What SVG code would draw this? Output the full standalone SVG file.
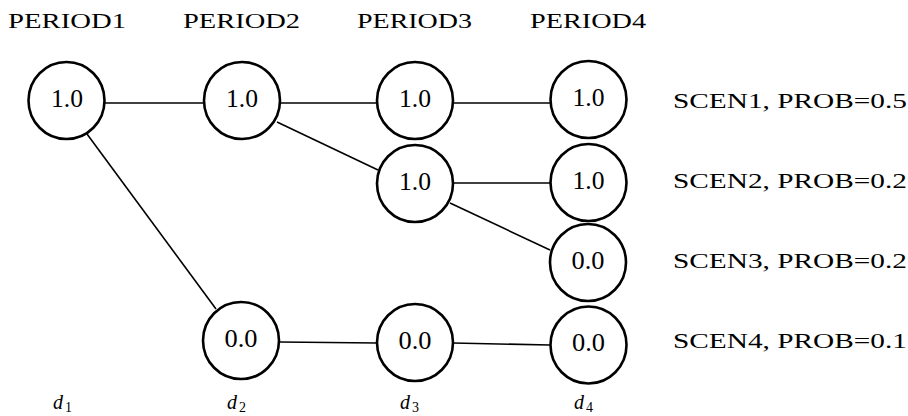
<svg xmlns="http://www.w3.org/2000/svg" width="908" height="416" viewBox="0 0 908 416">
<style>
.n ellipse{fill:#fff;stroke:#000;stroke-width:2.6}
.v{font-family:"Liberation Serif",serif;font-size:25px;text-anchor:middle;fill:#000}
.h{font-family:"Liberation Serif",serif;font-size:22px;fill:#000}
.s{font-family:"Liberation Serif",serif;font-size:22px;fill:#000}
.d{font-family:"Liberation Serif",serif;font-size:20px;font-style:italic;fill:#000}
.sub{font-size:14px;font-style:normal}
#connectors line{stroke:#000;stroke-width:1.6}
</style>
<rect width="908" height="416" fill="#fff"/>
<g id="headers">
<text class="h" x="8" y="28" textLength="118" lengthAdjust="spacingAndGlyphs">PERIOD1</text>
<text class="h" x="183" y="28" textLength="117" lengthAdjust="spacingAndGlyphs">PERIOD2</text>
<text class="h" x="357" y="28" textLength="115" lengthAdjust="spacingAndGlyphs">PERIOD3</text>
<text class="h" x="530" y="28" textLength="116" lengthAdjust="spacingAndGlyphs">PERIOD4</text>
</g>
<g id="connectors">
<line x1="105" y1="103" x2="204" y2="103"/>
<line x1="280" y1="103" x2="377" y2="103"/>
<line x1="453" y1="103" x2="550" y2="103"/>
<line x1="277" y1="122" x2="378" y2="170"/>
<line x1="453" y1="183" x2="550" y2="183"/>
<line x1="450" y1="203" x2="550" y2="250"/>
<line x1="87" y1="134" x2="216" y2="309"/>
<line x1="280" y1="342" x2="377" y2="343"/>
<line x1="453" y1="343" x2="550" y2="345"/>
</g>
<g id="n1" class="n"><ellipse cx="66.5" cy="100.5" rx="38" ry="38.5"/><text class="v" x="67" y="107" textLength="32" lengthAdjust="spacingAndGlyphs">1.0</text></g>
<g id="n2" class="n"><ellipse cx="242" cy="100.5" rx="38" ry="38.5"/><text class="v" x="242" y="107" textLength="32" lengthAdjust="spacingAndGlyphs">1.0</text></g>
<g id="n3" class="n"><ellipse cx="415" cy="100.5" rx="38" ry="38.5"/><text class="v" x="415" y="107" textLength="32" lengthAdjust="spacingAndGlyphs">1.0</text></g>
<g id="n4" class="n"><ellipse cx="588.5" cy="99.5" rx="38" ry="38.5"/><text class="v" x="588.5" y="106" textLength="32" lengthAdjust="spacingAndGlyphs">1.0</text></g>
<g id="n5" class="n"><ellipse cx="415" cy="183.5" rx="38" ry="38.5"/><text class="v" x="415" y="190" textLength="32" lengthAdjust="spacingAndGlyphs">1.0</text></g>
<g id="n6" class="n"><ellipse cx="588.5" cy="182.5" rx="38" ry="38.5"/><text class="v" x="588.5" y="189" textLength="32" lengthAdjust="spacingAndGlyphs">1.0</text></g>
<g id="n7" class="n"><ellipse cx="588" cy="262.5" rx="38" ry="38.5"/><text class="v" x="588" y="269" textLength="33" lengthAdjust="spacingAndGlyphs">0.0</text></g>
<g id="n8" class="n"><ellipse cx="241" cy="340.5" rx="38" ry="38.5"/><text class="v" x="241" y="347" textLength="33" lengthAdjust="spacingAndGlyphs">0.0</text></g>
<g id="n9" class="n"><ellipse cx="415" cy="342.5" rx="38" ry="38.5"/><text class="v" x="415" y="349" textLength="33" lengthAdjust="spacingAndGlyphs">0.0</text></g>
<g id="n10" class="n"><ellipse cx="588.5" cy="345" rx="38" ry="38.5"/><text class="v" x="588.5" y="351" textLength="33" lengthAdjust="spacingAndGlyphs">0.0</text></g>
<g id="scenarios">
<text class="s" x="673" y="108" textLength="234" lengthAdjust="spacingAndGlyphs">SCEN1, PROB=0.5</text>
<text class="s" x="673" y="188" textLength="234" lengthAdjust="spacingAndGlyphs">SCEN2, PROB=0.2</text>
<text class="s" x="673" y="268" textLength="234" lengthAdjust="spacingAndGlyphs">SCEN3, PROB=0.2</text>
<text class="s" x="673" y="348" textLength="234" lengthAdjust="spacingAndGlyphs">SCEN4, PROB=0.1</text>
</g>
<g id="stages">
<text class="d" x="53" y="409">d<tspan class="sub" dy="3" dx="2">1</tspan></text>
<text class="d" x="227" y="409">d<tspan class="sub" dy="3" dx="2">2</tspan></text>
<text class="d" x="400" y="409">d<tspan class="sub" dy="3" dx="2">3</tspan></text>
<text class="d" x="574" y="409">d<tspan class="sub" dy="3" dx="2">4</tspan></text>
</g>
</svg>
